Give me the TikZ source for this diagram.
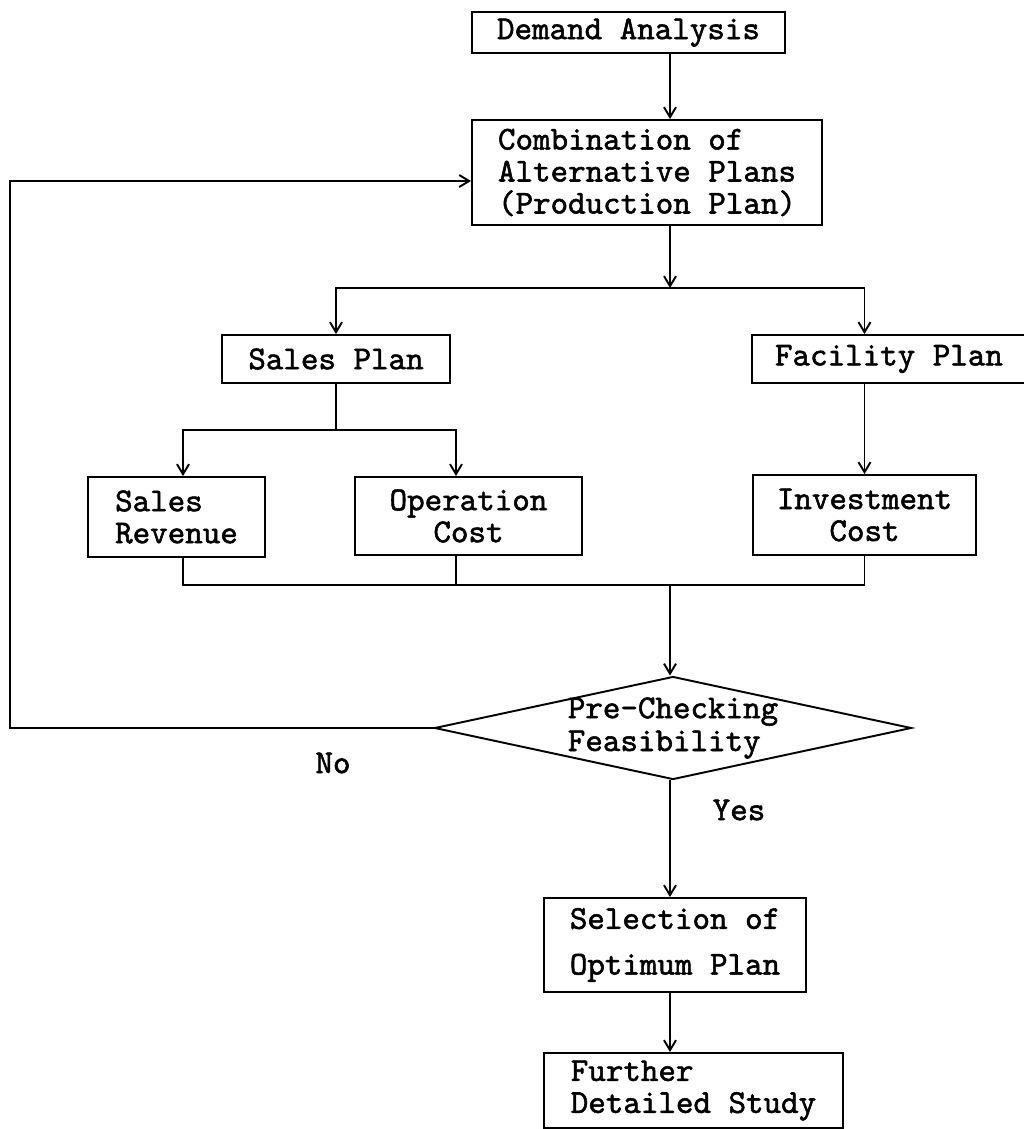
\documentclass[tikz,border=0pt]{standalone}
\usepackage{fontspec}
\newfontfamily\typer{lmmono10-regular.otf}[FakeBold=1.6]
\usetikzlibrary{shapes.geometric,arrows.meta}

\begin{document}
\begin{tikzpicture}[x=0.02cm, y=-0.02cm, line width=1.1pt,
  every node/.style={font=\typer\fontsize{19}{18.2}\selectfont},
  box/.style={draw, line width=1.1pt, align=left, inner sep=0pt},
  choice/.style={draw, diamond, line width=1.1pt, align=left, inner xsep=0pt, inner ysep=-0.12cm, aspect=4.63},
  arr/.style={-{Straight Barb[length=2mm,width=2.4mm]}}]
  \useasboundingbox (0,0) rectangle (1024,1129);
  \coordinate (col) at (670,0);

  % ---- boxes ----
  \node[box, minimum width=6.26cm, minimum height=0.82cm] (demand) at (628.5,32.5) {Demand Analysis};
  \node[box, minimum width=7cm, minimum height=2.1cm] (comb) at (647,172.5) {Combination of\\Alternative Plans\\(Production Plan)};
  \node[box, minimum width=4.56cm, minimum height=0.96cm] (splan) at (336,359) {Sales Plan};
  \node[box, minimum width=5.48cm, minimum height=0.96cm] (fplan) at (889,359) {Facility Plan};
  \node[box, minimum width=3.54cm, minimum height=1.6cm] (rev) at (176.5,517) {Sales\\Revenue};
  \node[box, align=center, minimum width=4.54cm, minimum height=1.56cm] (opcost) at (468.5,516) {Operation\\Cost};
  \node[box, align=center, minimum width=4.46cm, minimum height=1.6cm] (inv) at (864.5,515) {Investment\\Cost};
  \node[choice, minimum width=9.54cm, minimum height=2.06cm, font=\typer\fontsize{19}{18.7}\selectfont] (check) at (673,728) {Pre-Checking\\Feasibility};
  \node[box, minimum width=5.24cm, minimum height=1.88cm, font=\typer\fontsize{19}{26}\selectfont] (select) at (675,945) {Selection of\\Optimum Plan};
  \node[box, minimum width=5.98cm, minimum height=1.5cm] (further) at (693.5,1090.5) {Further\\Detailed Study};
  \node (no) at (333,763) {No};
  \node (yes) at (739,810) {Yes};

  % ---- connectors ----
  \draw[arr] (demand.south -| col) -- (comb.north -| col);
  \coordinate (split) at (670,288);
  \draw[arr] (comb.south -| col) -- (split);
  \draw[arr] (split) -| (splan.north);
  \draw[arr] (split) -| (inv.north |- fplan.north);
  \draw[arr] (inv.north |- fplan.south) -- (inv.north);

  \coordinate (ssplit) at (336,430);
  \coordinate (revx) at (183,0);
  \coordinate (opx) at (456,0);
  \draw (splan.south) -- (ssplit);
  \draw[arr] (ssplit) -| (revx |- rev.north);
  \draw[arr] (ssplit) -| (opx |- opcost.north);

  \coordinate (join) at (670,585);
  \draw (revx |- rev.south) |- (join);
  \draw (opx |- opcost.south) -- (opx |- join);
  \draw (inv.south) |- (join);
  \draw[arr] (join) -- (join |- check.north);

  % feedback when not feasible
  \coordinate (loop) at (10,181);
  \draw[arr] (check.west) -| (loop) -- (loop -| comb.west);

  \draw[arr] (check.south -| col) -- (col |- select.north);
  \draw[arr] (select.south -| col) -- (further.north -| col);
\end{tikzpicture}
\end{document}
